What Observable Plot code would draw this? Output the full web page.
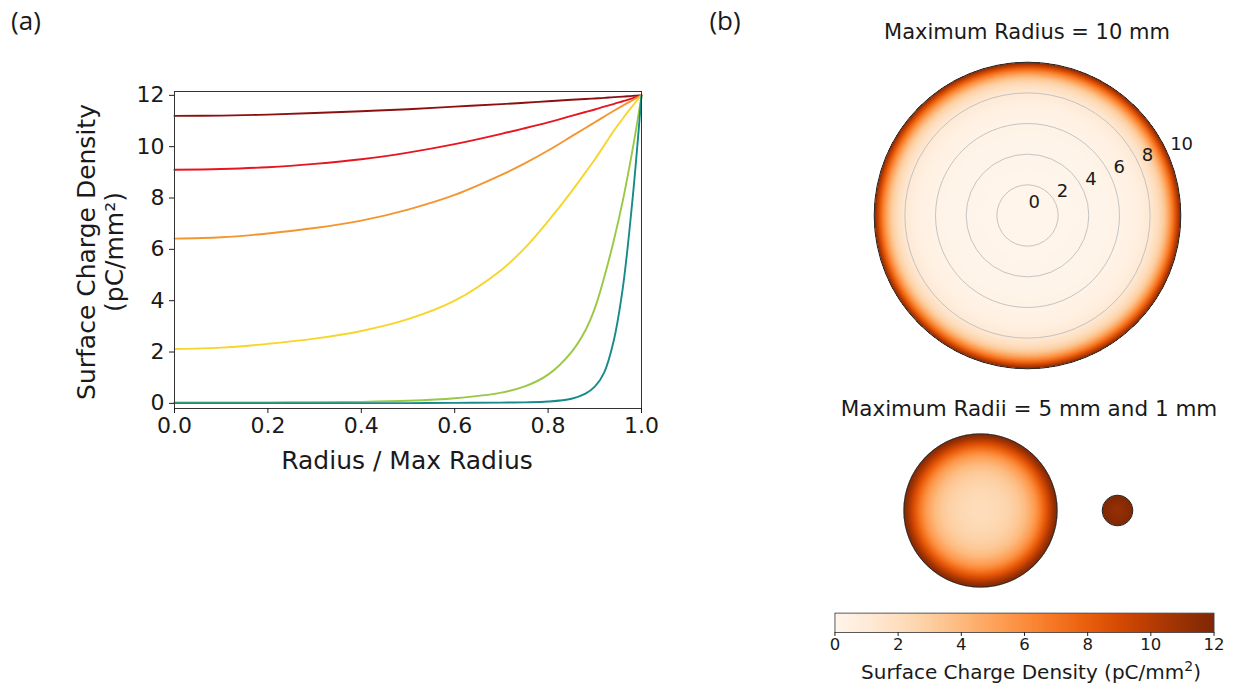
<!DOCTYPE html>
<html><head><meta charset="utf-8">
<script src="https://cdn.jsdelivr.net/npm/d3@7"></script>
<script src="https://cdn.jsdelivr.net/npm/@observablehq/plot@0.6"></script>
<style>
body{margin:0;background:#fff;}
#root{position:relative;width:1233px;height:690px;overflow:hidden;font-family:"DejaVu Sans",sans-serif;color:#1a1a1a}
.abs{position:absolute}
.t{position:absolute;white-space:nowrap;line-height:1;transform:translate(-50%,-50%)}
</style></head><body><div id="root"></div>
<script>
// ---- data ----
const radiusGrid = [0, 0.1, 0.2, 0.3, 0.4, 0.5, 0.6, 0.7, 0.75, 0.8, 0.85, 0.88, 0.9, 0.92, 0.94, 0.96, 0.98, 0.99, 1.0];
const darkRedCurve = [11.2, 11.21, 11.25, 11.31, 11.38, 11.46, 11.56, 11.66, 11.71, 11.77, 11.83, 11.86, 11.88, 11.9, 11.93, 11.95, 11.98, 11.99, 12];
const redCurve     = [9.1, 9.13, 9.2, 9.33, 9.51, 9.77, 10.1, 10.5, 10.72, 10.95, 11.2, 11.35, 11.45, 11.56, 11.66, 11.77, 11.88, 11.94, 12];
const orangeCurve  = [6.42, 6.47, 6.62, 6.83, 7.12, 7.55, 8.12, 8.9, 9.35, 9.85, 10.4, 10.73, 10.95, 11.17, 11.39, 11.6, 11.8, 11.9, 12];
const yellowCurve  = [2.12, 2.17, 2.32, 2.52, 2.82, 3.28, 4.0, 5.2, 6.05, 7.1, 8.25, 9.0, 9.5, 10.05, 10.6, 11.1, 11.57, 11.79, 12];
const greenCurve   = [0.04, 0.04, 0.04, 0.05, 0.06, 0.1, 0.2, 0.42, 0.66, 1.12, 2.0, 2.85, 3.7, 4.9, 6.3, 7.9, 9.8, 10.85, 12];
const tealCurve    = [0.01, 0.01, 0.01, 0.01, 0.01, 0.01, 0.02, 0.03, 0.04, 0.07, 0.18, 0.38, 0.65, 1.2, 2.4, 4.5, 7.8, 9.8, 12];
const seriesCurves = [darkRedCurve, redCurve, orangeCurve, yellowCurve, greenCurve, tealCurve];
const seriesColors = ["#8c1010", "#e5161f", "#f4952f", "#f7d52b", "#9ac843", "#178a8a"];
const xTicks = [0, 0.2, 0.4, 0.6, 0.8, 1.0];
const yTicks = [0, 2, 4, 6, 8, 10, 12];
const ringTicks = [0, 2, 4, 6, 8, 10];
const gridRings = [2, 4, 6, 8];
const cbarTicks = [0, 2, 4, 6, 8, 10, 12];
const discRadii = [10, 5, 1];
const discProfiles = [greenCurve, yellowCurve, darkRedCurve];

// ---- layout ----
const root = document.getElementById("root");
function place(node, left, top) {
  const d = document.createElement("div");
  d.className = "abs"; d.style.left = left + "px"; d.style.top = top + "px";
  d.appendChild(node); root.appendChild(d); return d;
}
function label(html, cx, cy, size, extra) {
  const d = document.createElement("div");
  d.className = "t"; d.innerHTML = html;
  d.style.left = cx + "px"; d.style.top = cy + "px"; d.style.fontSize = size + "px";
  if (extra) Object.assign(d.style, extra);
  root.appendChild(d); return d;
}

// ---- panel (a) ----
const plotA = Plot.plot({
  width: 680, height: 480,
  marginLeft: 174, marginTop: 91, marginRight: 39, marginBottom: 72,
  style: {fontFamily: "DejaVu Sans", color: "#1a1a1a", background: "transparent"},
  x: {domain: [0, 1]},
  y: {domain: [-0.2, 12.15]},
  marks: [
    ...seriesCurves.map((vals, k) =>
      Plot.line(radiusGrid, {x: d => d, y: (d, i) => vals[i], stroke: seriesColors[k], strokeWidth: 1.9, curve: "catmull-rom"})),
    Plot.frame({stroke: "#333", strokeWidth: 1}),
    Plot.axisX({ticks: xTicks, tickFormat: d3.format(".1f"), tickSize: 5, tickPadding: 4, fontSize: 22, label: null}),
    Plot.axisY({ticks: yTicks, tickSize: 5, tickPadding: 5, fontSize: 22, label: null})
  ]
});
place(plotA, 0, 0);
label("Surface Charge Density", 86, 252, 25, {transform: "translate(-50%,-50%) rotate(-90deg)"});
label("(pC/mm²)", 114, 252, 25, {transform: "translate(-50%,-50%) rotate(-90deg)"});
label("Radius / Max Radius", 407, 460, 25);
label("(a)", 26, 20, 26, {fontFamily: "'Open Sans', sans-serif"});
label("(b)", 725, 20, 26, {fontFamily: "'Open Sans', sans-serif"});

// ---- panel (b) ----
const PX_PER_MM = 15.33;
function profileAt(vals, t) {
  for (let i = 1; i < radiusGrid.length; i++) {
    if (t <= radiusGrid[i]) {
      const a = radiusGrid[i - 1], b = radiusGrid[i];
      return vals[i - 1] + (vals[i] - vals[i - 1]) * (t - a) / (b - a);
    }
  }
  return vals[vals.length - 1];
}
const ang = 22.5 * Math.PI / 180;
function discPlot(maxR, profile, size, withGrid) {
  const half = size / 2 / PX_PER_MM;
  return Plot.plot({
    width: size, height: size, margin: 0,
    style: {fontFamily: "DejaVu Sans", color: "#1a1a1a", background: "transparent", overflow: "visible"},
    x: {domain: [-half, half], axis: null},
    y: {domain: [-half, half], axis: null},
    r: {type: "linear", domain: [0, 10], range: [0, 10 * PX_PER_MM]},
    color: {type: "linear", scheme: "oranges", domain: [0, 12]},
    marks: [
      Plot.raster({
        x1: -maxR, x2: maxR, y1: -maxR, y2: maxR, imageRendering: "auto",
        fill: (x, y) => { const d = Math.hypot(x, y) / maxR; return d <= 1 ? profileAt(profile, d) : NaN; }
      }),
      withGrid ? Plot.dot(gridRings, {x: 0, y: 0, r: d => d, stroke: "#bdbdbd", strokeWidth: 0.9, fill: "none"}) : null,
      Plot.dot([maxR], {x: 0, y: 0, r: d => d, stroke: "#2a2a2a", strokeWidth: 1, fill: "none"}),
      withGrid ? Plot.text(ringTicks, {x: d => d * Math.cos(ang), y: d => d * Math.sin(ang), text: d => String(d),
        textAnchor: "start", dx: 1, dy: -13, fontSize: 18, fill: "#1a1a1a"}) : null
    ]
  });
}
place(discPlot(discRadii[0], discProfiles[0], 320, true), 1027 - 160, 215 - 160);
place(discPlot(discRadii[1], discProfiles[1], 170, false), 980 - 85, 510 - 85);
place(discPlot(discRadii[2], discProfiles[2], 40, false), 1117 - 20, 510 - 20);
label("Maximum Radius = 10 mm", 1027, 32, 21);
label("Maximum Radii = 5 mm and 1 mm", 1029, 409, 21.5);

// colorbar
const cbar = Plot.plot({
  width: 430, height: 63, marginLeft: 20, marginRight: 20, marginTop: 13, marginBottom: 30,
  style: {fontFamily: "DejaVu Sans", color: "#1a1a1a", background: "transparent"},
  x: {domain: [0, 12]},
  y: {domain: [0, 1], axis: null},
  color: {type: "linear", scheme: "oranges", domain: [0, 12]},
  marks: [
    Plot.raster({x1: 0, x2: 12, y1: 0, y2: 1, fill: (x, y) => x, imageRendering: "auto"}),
    Plot.frame({stroke: "#444", strokeWidth: 0.9}),
    Plot.axisX({ticks: cbarTicks, tickSize: 4, tickPadding: 2, fontSize: 17, label: null})
  ]
});
place(cbar, 815, 600);
label("Surface Charge Density (pC/mm<sup style='font-size:0.7em;vertical-align:0.55em;line-height:0'>2</sup>)", 1031, 672, 20);
</script></body></html>
